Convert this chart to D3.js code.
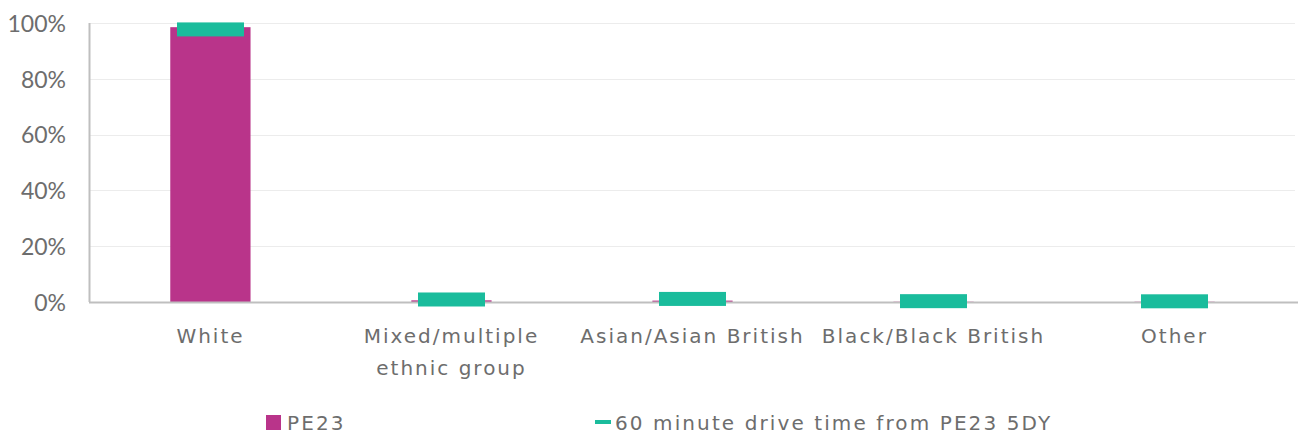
<!DOCTYPE html>
<html>
<head>
<meta charset="utf-8">
<script src="https://cdn.jsdelivr.net/npm/d3@7"></script>
<style>
  html, body { margin: 0; padding: 0; background: #fff; }
  svg { display: block; }
</style>
</head>
<body>
<svg id="chart" width="1298" height="435"></svg>
<script>
// Ethnic group shares: local postcode area vs. 60 minute drive-time catchment
const categories = [["White"], ["Mixed/multiple", "ethnic group"], ["Asian/Asian British"], ["Black/Black British"], ["Other"]];
const pe23Values = [0.985, 0.006, 0.005, 0.001, 0.001];
const driveValues = [0.977, 0.009, 0.011, 0.003, 0.0025];
const yTicks = [0, 0.2, 0.4, 0.6, 0.8, 1.0];
const seriesNames = ["PE23", "60 minute drive time from PE23 5DY"];

const pink = "#b9348a";
const green = "#1abc9c";
const textColor = "#6d6d6d";

const svg = d3.select("#chart");
const margin = { left: 90, right: 3, top: 23, bottom: 133 };
const W = 1298, H = 435;

const x = d3.scaleBand()
  .domain(categories.map(d => d.join(" ")))
  .range([margin.left, W - margin.right])
  .paddingInner(0.667).paddingOuter(0.333);
const xc = d3.scaleBand().domain(x.domain()).range([margin.left, W - margin.right]);
const y = d3.scaleLinear().domain([0, 1]).range([H - margin.bottom, margin.top]);

// clipped title above the plot
svg.append("text")
  .attr("x", 115).attr("y", -4)
  .attr("text-anchor", "end")
  .attr("font-family", "DejaVu Sans").attr("font-size", 22)
  .attr("fill", textColor)
  .text("Ethnicity");

// gridlines
svg.append("g").selectAll("line").data(yTicks.filter(t => t > 0)).join("line")
  .attr("x1", margin.left).attr("x2", W - margin.right)
  .attr("y1", d => Math.round(y(d)) + 0.5).attr("y2", d => Math.round(y(d)) + 0.5)
  .attr("stroke", "#ececec").attr("stroke-width", 1);

// y axis labels
const yAxis = d3.axisLeft(y).tickValues(yTicks).tickFormat(d3.format(".0%")).tickSize(0).tickPadding(24);
const ya = svg.append("g").attr("transform", `translate(${margin.left},0)`).call(yAxis);
ya.select(".domain").remove();
ya.selectAll("text")
  .attr("font-family", "Lato").attr("font-size", 23).attr("fill", textColor)
  .attr("dy", "0.36em");

// PE23 bars
svg.append("g").selectAll("rect").data(pe23Values).join("rect")
  .attr("x", (d, i) => x(x.domain()[i]))
  .attr("width", x.bandwidth())
  .attr("y", d => y(d))
  .attr("height", d => y(0) - y(d))
  .attr("fill", pink);

// axis lines
svg.append("line")
  .attr("x1", margin.left - 0.5).attr("x2", margin.left - 0.5)
  .attr("y1", y(1)).attr("y2", y(0))
  .attr("stroke", "#bfbfbf").attr("stroke-width", 2);
svg.append("line")
  .attr("x1", margin.left - 1).attr("x2", W)
  .attr("y1", y(0) + 0.5).attr("y2", y(0) + 0.5)
  .attr("stroke", "#bfbfbf").attr("stroke-width", 2);

// drive-time dash markers
const markW = 67, markH = 14;
svg.append("g").selectAll("rect").data(driveValues).join("rect")
  .attr("x", (d, i) => xc(xc.domain()[i]) + xc.bandwidth() / 2 - markW / 2)
  .attr("width", markW)
  .attr("y", d => y(d) - markH / 2)
  .attr("height", markH)
  .attr("fill", green);

// category labels
const cat = svg.append("g").selectAll("text").data(categories).join("text")
  .attr("x", (d, i) => xc(xc.domain()[i]) + xc.bandwidth() / 2)
  .attr("y", 343)
  .attr("text-anchor", "middle")
  .attr("font-family", "DejaVu Sans").attr("font-size", 20)
  .attr("letter-spacing", 2)
  .attr("fill", textColor);
cat.selectAll("tspan").data(d => d).join("tspan")
  .attr("x", function () { return this.parentNode.getAttribute("x"); })
  .attr("dy", (d, i) => i === 0 ? 0 : 32)
  .text(d => d);

// legend
const lg = svg.append("g");
lg.append("rect").attr("x", 266).attr("y", 415).attr("width", 15).attr("height", 15).attr("fill", pink);
lg.append("text").attr("x", 287).attr("y", 430)
  .attr("font-family", "DejaVu Sans").attr("font-size", 20).attr("letter-spacing", 2.1)
  .attr("fill", textColor)
  .text(seriesNames[0]);
lg.append("rect").attr("x", 595).attr("y", 420).attr("width", 16).attr("height", 4).attr("fill", green);
lg.append("text").attr("x", 615).attr("y", 430)
  .attr("font-family", "DejaVu Sans").attr("font-size", 20).attr("letter-spacing", 2.1)
  .attr("fill", textColor)
  .text(seriesNames[1]);
</script>
</body>
</html>
